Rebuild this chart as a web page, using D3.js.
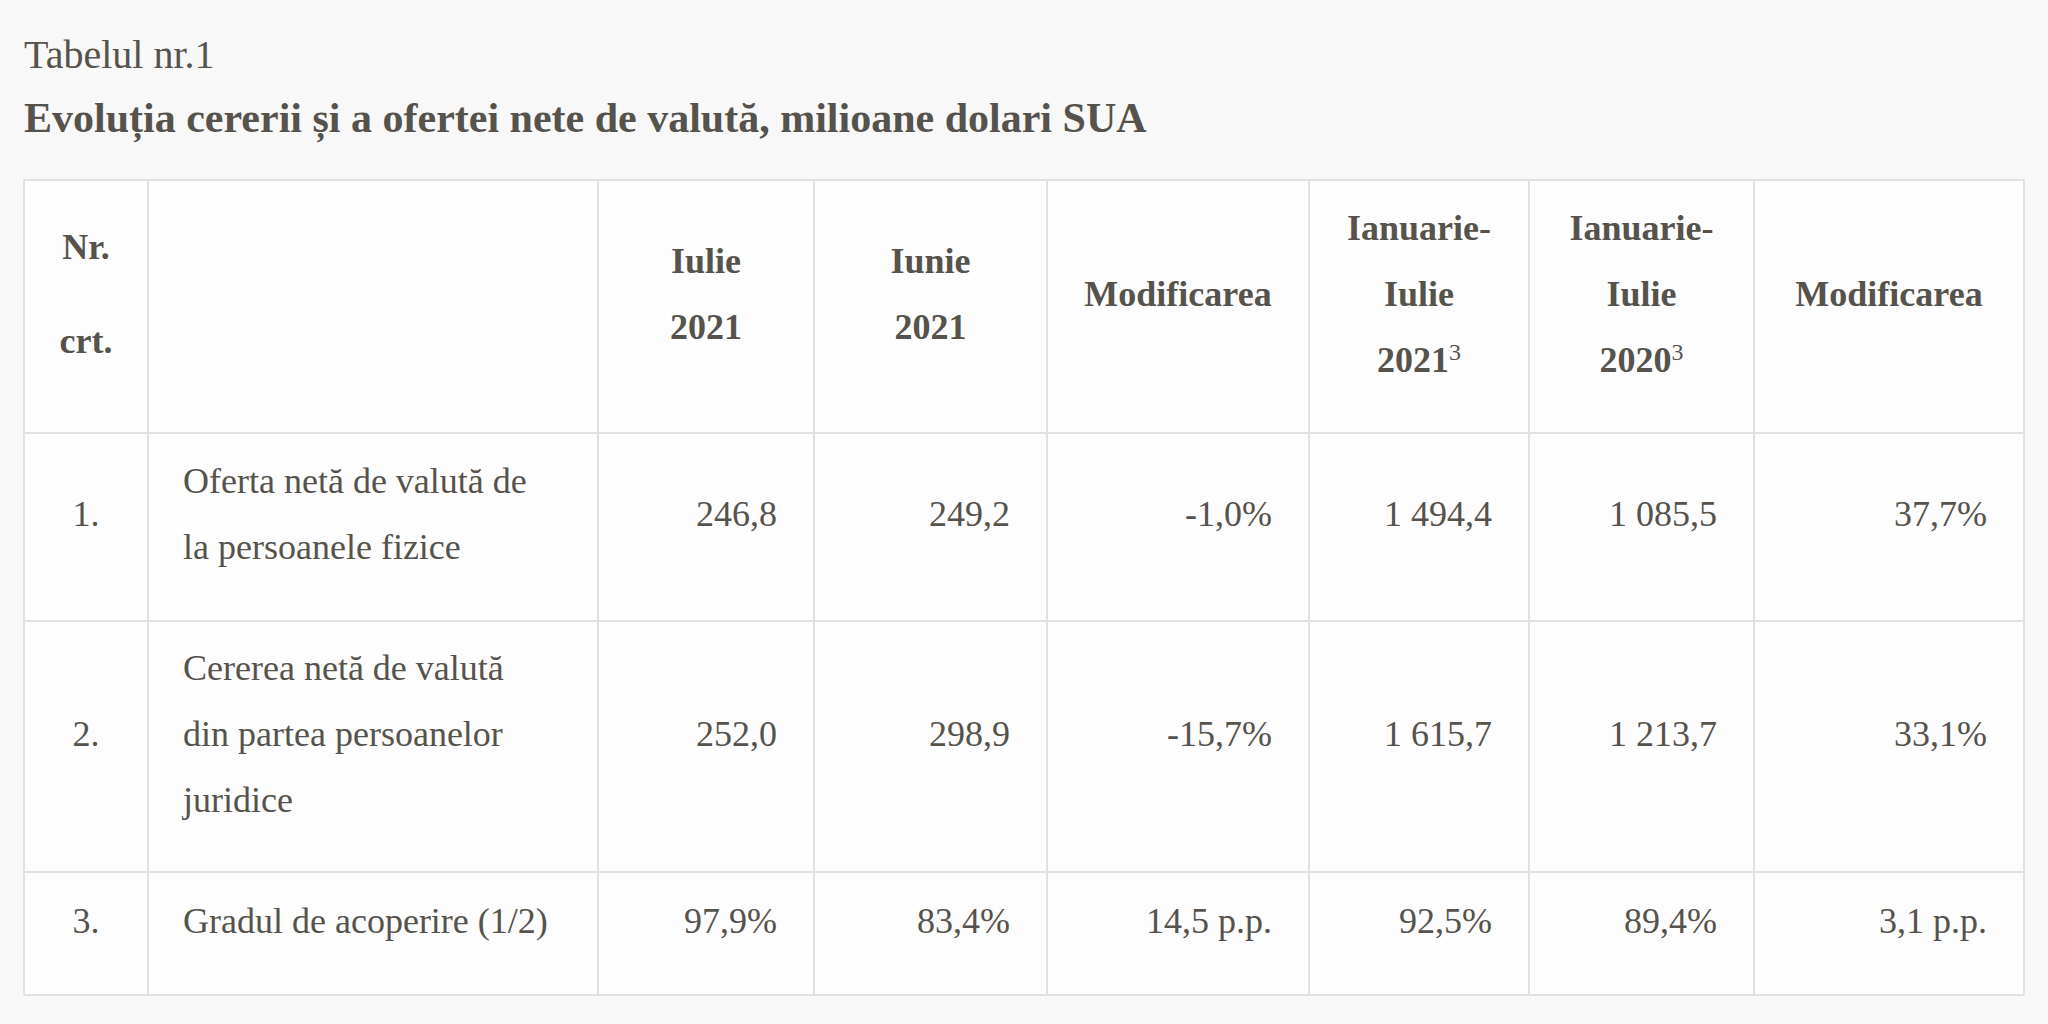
<!DOCTYPE html>
<html>
<head>
<meta charset="utf-8">
<script src="https://cdn.jsdelivr.net/npm/d3@7"></script>
<style>
  html, body { margin: 0; padding: 0; background: #f8f8f8; }
  svg { display: block; }
</style>
</head>
<body>
<script>
// ---------- data ----------
const tableNumber = "Tabelul nr.1";
const tableTitle = "Evoluția cererii și a ofertei nete de valută, milioane dolari SUA";

const headerLabels = [
  ["Nr.", "crt."],
  [],
  ["Iulie", "2021"],
  ["Iunie", "2021"],
  ["Modificarea"],
  ["Ianuarie-", "Iulie", "2021"],
  ["Ianuarie-", "Iulie", "2020"],
  ["Modificarea"]
];
const headerSup = [null, null, null, null, null, "3", "3", null];

const rowNumbers = ["1.", "2.", "3."];
const rowLabels = [
  ["Oferta netă de valută de", "la persoanele fizice"],
  ["Cererea netă de valută", "din partea persoanelor", "juridice"],
  ["Gradul de acoperire (1/2)"]
];
const rowKinds = ["value", "value", "ratio"];

const iulie2021 = [246.8, 252.0, 97.9];
const iunie2021 = [249.2, 298.9, 83.4];
const modificareaLunara = [-1.0, -15.7, 14.5];
const ianIul2021 = [1494.4, 1615.7, 92.5];
const ianIul2020 = [1085.5, 1213.7, 89.4];
const modificareaAnuala = [37.7, 33.1, 3.1];

// ---------- layout ----------
const W = 2048, H = 1024;
const colWidths = [124, 450, 216, 233, 262, 220, 225, 270];
const rowHeights = [253, 188, 251, 123];
const tableLeft = 24, tableTop = 180;
const lineH = 66;
const textColor = "#56524c";
const fontFamily = "'Liberation Serif', 'Times New Roman', serif";

const colEdges = [tableLeft, ...d3.cumsum(colWidths).map(v => v + tableLeft)];
const rowEdges = [tableTop, ...d3.cumsum(rowHeights).map(v => v + tableTop)];

const x = d3.scaleOrdinal().domain(d3.range(colEdges.length)).range(colEdges);
const y = d3.scaleOrdinal().domain(d3.range(rowEdges.length)).range(rowEdges);

const loc = d3.formatLocale({decimal: ",", thousands: "\u00a0", grouping: [3], currency: ["", ""], minus: "-"});
const fNum = loc.format(",.1f");
const fPct = v => loc.format(".1f")(v) + "%";
const fPP = v => loc.format(".1f")(v) + " p.p.";

const svg = d3.select("body").append("svg")
  .attr("width", W).attr("height", H)
  .style("font-family", fontFamily);

svg.append("rect").attr("width", W).attr("height", H).attr("fill", "#f8f8f8");

// titles
svg.append("text").attr("x", 24).attr("y", 68)
  .attr("font-size", 40).attr("fill", textColor).text(tableNumber);
svg.append("text").attr("x", 24).attr("y", 132)
  .attr("font-size", 42).attr("font-weight", "bold").attr("fill", textColor).text(tableTitle);

// table background
svg.append("rect")
  .attr("x", x(0)).attr("y", y(0))
  .attr("width", x(colEdges.length - 1) - x(0))
  .attr("height", y(rowEdges.length - 1) - y(0))
  .attr("fill", "#fdfdfd");

// grid lines
const grid = svg.append("g").attr("stroke", "#e1e1e1").attr("stroke-width", 2);
grid.selectAll("line.v").data(colEdges).join("line")
  .attr("x1", d => d).attr("x2", d => d)
  .attr("y1", y(0)).attr("y2", y(rowEdges.length - 1));
grid.selectAll("line.h").data(rowEdges).join("line")
  .attr("y1", d => d).attr("y2", d => d)
  .attr("x1", x(0)).attr("x2", x(colEdges.length - 1));

// helper to draw multi-line cell text
function cellText(g, lines, col, row, align, opts = {}) {
  const lh = opts.lineH || lineH;
  const cy = (y(row) + y(row + 1)) / 2 - 1;
  let tx, anchor;
  if (align === "center") { tx = (x(col) + x(col + 1)) / 2; anchor = "middle"; }
  else if (align === "left") { tx = x(col) + 35; anchor = "start"; }
  else { tx = x(col + 1) - 37; anchor = "end"; }
  const n = lines.length;
  lines.forEach((ln, i) => {
    const t = g.append("text")
      .attr("x", tx)
      .attr("y", cy + (i - (n - 1) / 2) * lh)
      .attr("text-anchor", anchor)
      .attr("font-size", 36)
      .attr("font-weight", opts.bold ? "bold" : "normal")
      .attr("fill", textColor)
      .text(ln);
    if (opts.sup && i === n - 1) {
      t.append("tspan").attr("dy", -12).attr("font-size", 24)
        .attr("font-weight", "normal").text(opts.sup);
    }
  });
}

const body = svg.append("g");

// header
headerLabels.forEach((lines, c) => {
  cellText(body, lines, c, 0, "center", {bold: true, lineH: c === 0 ? 94 : lineH, sup: headerSup[c]});
});

// rows
const valueCols = [iulie2021, iunie2021, modificareaLunara, ianIul2021, ianIul2020, modificareaAnuala];
rowNumbers.forEach((num, r) => {
  cellText(body, [num], 0, r + 1, "center");
  cellText(body, rowLabels[r], 1, r + 1, "left");
  valueCols.forEach((arr, k) => {
    const v = arr[r];
    let s;
    const isChange = (k === 2 || k === 5);
    if (rowKinds[r] === "ratio") s = isChange ? fPP(v) : fPct(v);
    else s = isChange ? fPct(v) : fNum(v);
    cellText(body, [s], k + 2, r + 1, "right");
  });
});
</script>
</body>
</html>
